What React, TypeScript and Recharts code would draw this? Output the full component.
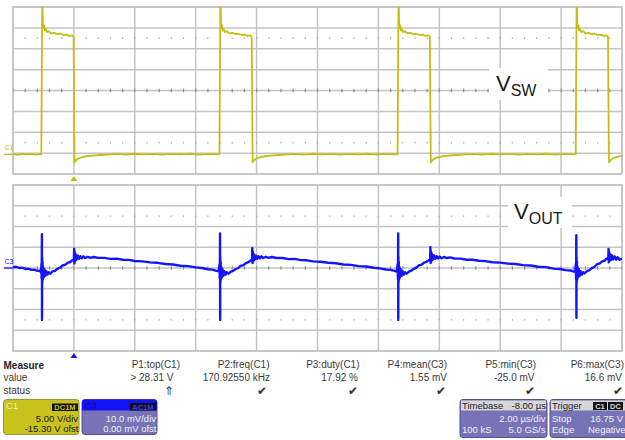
import React from 'react';
import {
  ComposedChart,
  Line,
  XAxis,
  YAxis,
  CartesianGrid,
  ReferenceLine,
  ReferenceArea,
  ReferenceDot,
} from 'recharts';

const FONT = '"Liberation Sans", Arial, Helvetica, sans-serif';
const YELLOW = '#c4be14';
const BLUE = '#1414ff';
const GRID = '#c4c4c4';

// time axis in µs (2 µs/div, trigger at 0)
const timeTicks = [-2, 0, 2, 4, 6, 8, 10, 12, 14, 16, 18];
// C1: 5 V/div, offset -15.30 V
const vswTicks = [-4.7, 0.3, 5.3, 10.3, 15.3, 20.3, 25.3, 30.3, 35.3];
// C3: 10 mV/div, offset 0
const voutTicks = [-40, -30, -20, -10, 0, 10, 20, 30, 40];

// V_SW trace [µs, V]
const vswPoints: [number, number][] = [
  [-2.0, 0.05], [-1.85, -0.1], [-1.7, 0.1], [-1.55, 0.0], [-1.4, 0.12], [-1.25, -0.05], [-1.12, 0.1], [-1.07, 0.0],
  [-1.04, 37.0], [-1.03, 35.5], [-1.02, 31.5], [-1.0, 30.3], [-0.98, 30.9], [-0.96, 29.7], [-0.93, 30.0], [-0.89, 29.3],
  [-0.83, 29.5], [-0.75, 29.0], [-0.65, 29.1], [-0.55, 28.8], [-0.45, 28.9], [-0.35, 28.6], [-0.25, 28.7], [-0.15, 28.4],
  [-0.06, 28.5], [-0.01, 28.2],
  [0.02, -1.9], [0.05, -1.6], [0.1, -1.2], [0.15, -0.95], [0.25, -0.7], [0.4, -0.45], [0.6, -0.3], [0.85, -0.15],
  [1.1, -0.05], [1.4, 0.1], [1.7, -0.05], [2.0, 0.15], [2.3, 0.0], [2.6, 0.12], [2.9, -0.05], [3.2, 0.1], [3.5, 0.0],
  [3.8, 0.15], [4.1, -0.05], [4.4, 0.1], [4.7, 0.0], [4.78, 0.05],
  [4.81, 37.0], [4.82, 35.5], [4.83, 31.5], [4.85, 30.3], [4.87, 30.9], [4.89, 29.7], [4.92, 30.0], [4.96, 29.3],
  [5.02, 29.5], [5.1, 29.0], [5.2, 29.1], [5.3, 28.8], [5.4, 28.9], [5.5, 28.6], [5.6, 28.7], [5.7, 28.4], [5.79, 28.5],
  [5.84, 28.2],
  [5.87, -1.9], [5.9, -1.6], [5.95, -1.2], [6.0, -0.95], [6.1, -0.7], [6.25, -0.45], [6.45, -0.3], [6.7, -0.15],
  [6.95, -0.05], [7.25, 0.1], [7.55, -0.05], [7.85, 0.15], [8.15, 0.0], [8.45, 0.12], [8.75, -0.05], [9.05, 0.1],
  [9.35, 0.0], [9.65, 0.15], [9.95, -0.05], [10.25, 0.1], [10.55, 0.0], [10.63, 0.05],
  [10.66, 37.0], [10.67, 35.5], [10.68, 31.5], [10.7, 30.3], [10.72, 30.9], [10.74, 29.7], [10.77, 30.0], [10.81, 29.3],
  [10.87, 29.5], [10.95, 29.0], [11.05, 29.1], [11.15, 28.8], [11.25, 28.9], [11.35, 28.6], [11.45, 28.7], [11.55, 28.4],
  [11.64, 28.5], [11.69, 28.2],
  [11.72, -1.9], [11.75, -1.6], [11.8, -1.2], [11.85, -0.95], [11.95, -0.7], [12.1, -0.45], [12.3, -0.3], [12.55, -0.15],
  [12.8, -0.05], [13.1, 0.1], [13.4, -0.05], [13.7, 0.15], [14.0, 0.0], [14.3, 0.12], [14.6, -0.05], [14.9, 0.1],
  [15.2, 0.0], [15.5, 0.15], [15.8, -0.05], [16.1, 0.1], [16.4, 0.0], [16.48, 0.05],
  [16.51, 37.0], [16.52, 35.5], [16.53, 31.5], [16.55, 30.3], [16.57, 30.9], [16.59, 29.7], [16.62, 30.0], [16.66, 29.3],
  [16.72, 29.5], [16.8, 29.0], [16.9, 29.1], [17.0, 28.8], [17.1, 28.9], [17.2, 28.6], [17.3, 28.7], [17.4, 28.4],
  [17.49, 28.5], [17.54, 28.2],
  [17.57, -1.9], [17.6, -1.6], [17.65, -1.2], [17.7, -0.95], [17.8, -0.7], [17.9, -0.5], [18.0, -0.4],
];

// V_OUT trace [µs, mV]
const voutPoints: [number, number][] = [
  [-2.0, 0.4], [-1.9, 0.6], [-1.8, 0.0], [-1.7, 0.2], [-1.6, -0.5], [-1.5, -0.3], [-1.4, -0.9], [-1.3, -0.8], [-1.2, -1.4],
  [-1.12, -1.3], [-1.08, -2.2],
  [-1.065, 2.0], [-1.06, -5.0], [-1.055, 4.0], [-1.05, 16.3], [-1.047, -25.0], [-1.043, 5.5], [-1.038, -7.0], [-1.03, 3.0],
  [-1.02, -5.5], [-1.01, 0.5], [-0.99, -4.5], [-0.97, -0.5], [-0.94, -3.8], [-0.91, -1.5], [-0.87, -3.2], [-0.83, -2.0],
  [-0.78, -2.8],
  [-0.7, -1.6], [-0.62, -1.4], [-0.55, -0.4], [-0.45, 0.2], [-0.38, 1.2], [-0.28, 1.6], [-0.2, 2.6], [-0.12, 2.9],
  [-0.05, 3.8], [-0.02, 3.6],
  [0.0, 4.2], [0.008, 9.3], [0.016, 2.2], [0.025, 7.8], [0.035, 3.0], [0.05, 6.8], [0.065, 3.8], [0.08, 6.2], [0.1, 4.2],
  [0.13, 5.9], [0.17, 4.4], [0.21, 5.7], [0.26, 4.7], [0.31, 5.6], [0.37, 4.8], [0.45, 5.4], [0.55, 4.9], [0.65, 5.3],
  [0.8, 4.9], [1.0, 4.9], [1.2, 4.4], [1.4, 4.5], [1.6, 4.0], [1.8, 3.9], [2.0, 3.4], [2.25, 3.2], [2.5, 2.7], [2.75, 2.5],
  [3.0, 1.9], [3.25, 1.7], [3.5, 1.1], [3.75, 0.9], [4.0, 0.3], [4.2, 0.0], [4.4, -0.6], [4.55, -0.8], [4.68, -1.4],
  [4.75, -1.6],
  [4.785, 2.0], [4.79, -5.0], [4.795, 4.0], [4.8, 16.6], [4.803, -25.0], [4.807, 5.5], [4.812, -7.0], [4.82, 3.0],
  [4.83, -5.5], [4.84, 0.5], [4.86, -4.5], [4.88, -0.5], [4.91, -3.8], [4.94, -1.5], [4.98, -3.2], [5.02, -2.0],
  [5.07, -2.8],
  [5.15, -1.8], [5.23, -1.4], [5.3, -0.6], [5.4, 0.0], [5.47, 1.0], [5.57, 1.4], [5.65, 2.4], [5.73, 2.8], [5.8, 3.6],
  [5.83, 3.6],
  [5.85, 4.2], [5.858, 9.6], [5.866, 2.4], [5.875, 8.0], [5.885, 3.0], [5.9, 6.8], [5.915, 3.8], [5.93, 6.2], [5.95, 4.2],
  [5.98, 5.9], [6.02, 4.4], [6.06, 5.7], [6.11, 4.7], [6.16, 5.6], [6.22, 4.8], [6.3, 5.4], [6.4, 4.9], [6.5, 5.3],
  [6.65, 4.8], [6.85, 4.8], [7.05, 4.3], [7.25, 4.4], [7.45, 3.8], [7.65, 3.7], [7.85, 3.2], [8.1, 3.0], [8.35, 2.5],
  [8.6, 2.3], [8.85, 1.7], [9.1, 1.5], [9.35, 0.9], [9.6, 0.7], [9.85, 0.1], [10.05, -0.2], [10.25, -0.7], [10.4, -0.9],
  [10.53, -1.4], [10.6, -1.7],
  [10.635, 2.0], [10.64, -5.0], [10.645, 4.0], [10.65, 16.6], [10.653, -25.0], [10.657, 5.5], [10.662, -7.0], [10.67, 3.0],
  [10.68, -5.5], [10.69, 0.5], [10.71, -4.5], [10.73, -0.5], [10.76, -3.8], [10.79, -1.5], [10.83, -3.2], [10.87, -2.0],
  [10.92, -2.8],
  [11.0, -1.7], [11.08, -1.3], [11.15, -0.5], [11.25, 0.2], [11.32, 1.2], [11.42, 1.6], [11.5, 2.6], [11.58, 3.0],
  [11.65, 3.8], [11.68, 3.7],
  [11.7, 4.3], [11.708, 10.0], [11.716, 2.4], [11.725, 8.0], [11.735, 3.0], [11.75, 7.0], [11.765, 3.8], [11.78, 6.3],
  [11.8, 4.2], [11.83, 6.0], [11.87, 4.4], [11.91, 5.7], [11.96, 4.6], [12.01, 5.5], [12.07, 4.7], [12.15, 5.3],
  [12.25, 4.8], [12.35, 5.1], [12.5, 4.6], [12.7, 4.5], [12.9, 4.0], [13.1, 4.0], [13.3, 3.5], [13.5, 3.3], [13.75, 2.8],
  [14.0, 2.6], [14.25, 2.1], [14.5, 1.9], [14.75, 1.4], [15.0, 1.2], [15.25, 0.6], [15.5, 0.4], [15.75, -0.3],
  [15.95, -0.5], [16.15, -1.0], [16.3, -1.2], [16.4, -1.6], [16.46, -1.8],
  [16.485, 2.0], [16.49, -5.0], [16.495, 4.0], [16.5, 15.8], [16.503, -24.0], [16.507, 5.5], [16.512, -7.0], [16.52, 3.0],
  [16.53, -5.5], [16.54, 0.5], [16.56, -4.5], [16.58, -0.5], [16.61, -3.8], [16.64, -1.5], [16.68, -3.2], [16.72, -2.0],
  [16.77, -2.6],
  [16.85, -1.5], [16.93, -1.0], [17.0, -0.2], [17.1, 0.6], [17.17, 1.7], [17.27, 2.2], [17.35, 3.2], [17.43, 3.6],
  [17.5, 4.6], [17.53, 4.4],
  [17.55, 5.0], [17.558, 9.2], [17.566, 2.8], [17.575, 8.0], [17.585, 3.2], [17.6, 6.8], [17.615, 3.8], [17.63, 6.4],
  [17.65, 4.0], [17.68, 6.0], [17.72, 4.2], [17.76, 5.6], [17.81, 4.0], [17.86, 5.2], [17.92, 4.0], [18.0, 4.6],
];

const measureHeaders = ['P1:top(C1)', 'P2:freq(C1)', 'P3:duty(C1)', 'P4:mean(C3)', 'P5:min(C3)', 'P6:max(C3)'];
const measureValues = ['> 28.31 V', '170.92550 kHz', '17.92 %', '1.55 mV', '-25.0 mV', '16.6 mV'];
const measureStatus = ['\u21D1', '\u2714', '\u2714', '\u2714', '\u2714', '\u2714'];

const vswData = vswPoints.map(([t, v]) => ({ t, v }));
const voutData = voutPoints.map(([t, v]) => ({ t, v }));

const upTriangle = (color: string) => (props: any) => {
  const { cx, cy } = props;
  return <path d={`M${cx - 3.5},${cy + 7} L${cx + 3.5},${cy + 7} L${cx},${cy + 2} Z`} fill={color} />;
};

const chLabel = (text: string, color: string) => (props: any) => {
  const { cx, cy } = props;
  return (
    <text x={cx} y={cy - 4.5} fontSize={7} fill={color} fontFamily={FONT}>
      {text}
    </text>
  );
};

type ScopeProps = {
  data: { t: number; v: number }[];
  yTicks: number[];
  center: number;
  halfSpan: number;
  color: string;
  width: number;
  label: string;
  height: number;
  bottom: number;
};

function ScopePane({ data, yTicks, center, halfSpan, color, width, label, height, bottom }: ScopeProps) {
  const yMin = yTicks[0];
  const yMax = yTicks[yTicks.length - 1];
  return (
    <ComposedChart width={625} height={height} data={data} margin={{ top: 7, right: 3, bottom, left: 13 }}>
      <XAxis dataKey="t" type="number" domain={[-2, 18]} ticks={timeTicks} interval={0} hide allowDataOverflow />
      <YAxis type="number" domain={[yMin, yMax]} ticks={yTicks} interval={0} hide allowDataOverflow />
      <CartesianGrid stroke={GRID} strokeWidth={1.5} />
      <ReferenceArea x1={-2} x2={18} y1={yMin} y2={yMax} fill="none" stroke={GRID} strokeWidth={1.6} fillOpacity={0} />
      <ReferenceLine y={center} stroke="#8c8c8c" strokeWidth={3.5} strokeDasharray="1.2 10.98" strokeDashoffset={0.6} />
      <ReferenceLine y={center + halfSpan} stroke="#a8a8a8" strokeWidth={1.4} strokeDasharray="1.2 10.98" strokeDashoffset={0.6} />
      <ReferenceLine y={center - halfSpan} stroke="#a8a8a8" strokeWidth={1.4} strokeDasharray="1.2 10.98" strokeDashoffset={0.6} />
      <ReferenceLine segment={[{ x: -2.3, y: 0 }, { x: -2, y: 0 }]} stroke={color} strokeWidth={1.4} ifOverflow="visible" />
      <ReferenceDot x={-2.28} y={0} ifOverflow="visible" shape={chLabel(label, color)} />
      <ReferenceDot x={0} y={yMin} ifOverflow="visible" shape={upTriangle(color)} />
      <Line
        type="linear"
        dataKey="v"
        stroke={color}
        strokeWidth={width}
        dot={false}
        activeDot={false}
        isAnimationActive={false}
        strokeLinejoin="round"
      />
    </ComposedChart>
  );
}

export default function App() {
  const hdrX = [180, 269.5, 359.5, 447, 536, 624];
  const valX = [173.5, 270, 358, 447, 534.5, 622];
  const stX = [174, 267, 357.5, 445.5, 534.5, 622.5];
  const txt = '#3a3a3a';
  const boxBody = '#7673b6';
  const boxBorder = '#55538e';
  const light = '#f0f0f4';
  return (
    <div
      style={{
        position: 'absolute',
        left: 0,
        top: 0,
        width: 625,
        height: 440,
        background: '#ffffff',
        overflow: 'hidden',
        fontFamily: FONT,
      }}
    >
      <div style={{ position: 'absolute', left: 0, top: 0 }}>
        <ScopePane data={vswData} yTicks={vswTicks} center={15.3} halfSpan={12.5} color={YELLOW} width={1.8} label="C1" height={182} bottom={8} />
      </div>
      <div style={{ position: 'absolute', left: 0, top: 178 }}>
        <ScopePane data={voutData} yTicks={voutTicks} center={0} halfSpan={25} color={BLUE} width={2.4} label="C3" height={182} bottom={9} />
      </div>
      <svg width={625} height={440} style={{ position: 'absolute', left: 0, top: 0, pointerEvents: 'none' }} fontFamily={FONT}>
        <rect x={489} y={68} width={59} height={32} fill="#ffffff" />
        <text x={496} y={91} fontSize={22} fill="#1a1a1a">
          V<tspan fontSize={16} dy={5}>SW</tspan>
        </text>
        <rect x={508} y={197} width={64} height={31} fill="#ffffff" />
        <text x={514} y={219} fontSize={22} fill="#1a1a1a">
          V<tspan fontSize={16} dy={5}>OUT</tspan>
        </text>

        <text x={3.5} y={368.5} fontSize={10} fontWeight="bold" fill="#222">Measure</text>
        <text x={3.5} y={381} fontSize={10} fill={txt}>value</text>
        <text x={3.5} y={393.5} fontSize={10} fill={txt}>status</text>
        {measureHeaders.map((h, i) => (
          <text key={'h' + i} x={hdrX[i]} y={368} fontSize={10} fill={txt} textAnchor="end">{h}</text>
        ))}
        {measureValues.map((v, i) => (
          <text key={'v' + i} x={valX[i]} y={380.5} fontSize={10} fill={txt} textAnchor="end">{v}</text>
        ))}
        {measureStatus.map((s, i) => (
          <text key={'s' + i} x={stX[i]} y={394.5} fontSize={11.5} fill="#333" textAnchor="end">{s}</text>
        ))}

        {/* C1 box */}
        <rect x={3.5} y={399.5} width={75.5} height={35} rx={3} fill="#c7c21c" stroke="#9a9640" />
        <text x={6} y={409} fontSize={9.5} fill="#f4f0c4">C1</text>
        <rect x={52} y={403.5} width={26} height={7.5} fill="#111" />
        <text x={65} y={410.2} fontSize={7.5} fontWeight="bold" fill="#c7c21c" textAnchor="middle">DC1M</text>
        <text x={78} y={421.5} fontSize={9.5} fill="#202020" textAnchor="end">5.00 V/div</text>
        <text x={78.5} y={432} fontSize={9.5} fill="#202020" textAnchor="end">-15.30 V ofst</text>

        {/* C3 box */}
        <rect x={82} y={399.5} width={75} height={35} rx={3} fill={boxBody} stroke={boxBorder} />
        <path d="M85,399.5 L154,399.5 Q157,399.5 157,402.5 L157,410.5 L82,410.5 L82,402.5 Q82,399.5 85,399.5 Z" fill="#1212ff" />
        <text x={85} y={409} fontSize={9.5} fill="#10107a">C3</text>
        <rect x={130} y={403} width={26} height={7.5} fill="#111" />
        <text x={143} y={409.7} fontSize={7.5} fontWeight="bold" fill="#3b3bff" textAnchor="middle">AC1M</text>
        <text x={156} y={421.5} fontSize={9.5} fill={light} textAnchor="end">10.0 mV/div</text>
        <text x={156.5} y={432} fontSize={9.5} fill={light} textAnchor="end">0.00 mV ofst</text>

        {/* Timebase box */}
        <rect x={460} y={399.5} width={87} height={38} rx={3} fill={boxBody} stroke={boxBorder} />
        <rect x={461} y={400.5} width={85} height={10} fill="#d6d6d6" />
        <text x={462} y={409} fontSize={9.5} fill="#222">Timebase</text>
        <text x={546} y={409} fontSize={9.5} fill="#222" textAnchor="end">-8.00 µs</text>
        <text x={545.5} y={422} fontSize={9.5} fill={light} textAnchor="end">2.00 µs/div</text>
        <text x={462} y={433} fontSize={9.5} fill={light}>100 kS</text>
        <text x={545.5} y={433} fontSize={9.5} fill={light} textAnchor="end">5.0 GS/s</text>

        {/* Trigger box */}
        <rect x={550} y={399.5} width={82} height={38} rx={3} fill={boxBody} stroke={boxBorder} />
        <rect x={551} y={400.5} width={74} height={10} fill="#d6d6d6" />
        <text x={552} y={409} fontSize={9.5} fill="#222">Trigger</text>
        <rect x={593} y={402} width={14} height={8} fill="#111" />
        <rect x={608} y={402} width={15} height={8} fill="#111" />
        <text x={600} y={409} fontSize={7.5} fontWeight="bold" fill="#d8d8d8" textAnchor="middle">C1</text>
        <text x={615.5} y={409} fontSize={7.5} fontWeight="bold" fill="#d8d8d8" textAnchor="middle">DC</text>
        <text x={552} y={422} fontSize={9.5} fill={light}>Stop</text>
        <text x={623} y={422} fontSize={9.5} fill={light} textAnchor="end">16.75 V</text>
        <text x={552} y={433} fontSize={9.5} fill={light}>Edge</text>
        <text x={625.5} y={433} fontSize={9.5} fill={light} textAnchor="end">Negative</text>
      </svg>
    </div>
  );
}
